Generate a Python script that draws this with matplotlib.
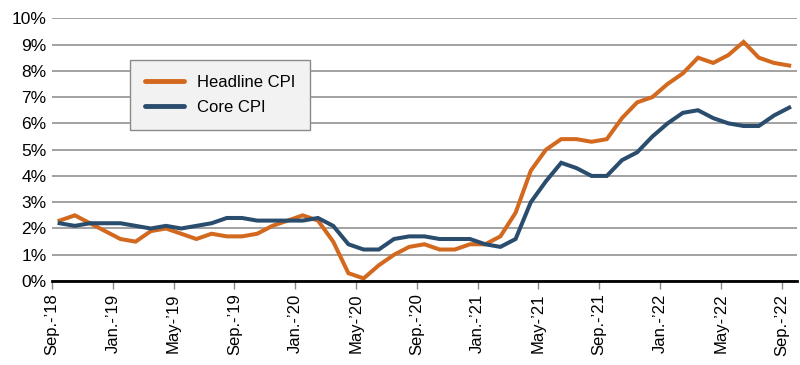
import matplotlib.pyplot as plt
import numpy as np

plt.rcParams['font.family'] = ['Liberation Sans', 'DejaVu Sans']

# monthly, Sep. 2018 .. Sep. 2022 (year-over-year %)
headline = [2.3, 2.5, 2.2, 1.9,
            1.6, 1.5, 1.9, 2.0, 1.8, 1.6, 1.8, 1.7, 1.7, 1.8, 2.1, 2.3,
            2.5, 2.3, 1.5, 0.3, 0.1, 0.6, 1.0, 1.3, 1.4, 1.2, 1.2, 1.4,
            1.4, 1.7, 2.6, 4.2, 5.0, 5.4, 5.4, 5.3, 5.4, 6.2, 6.8, 7.0,
            7.5, 7.9, 8.5, 8.3, 8.6, 9.1, 8.5, 8.3, 8.2]
core = [2.2, 2.1, 2.2, 2.2,
        2.2, 2.1, 2.0, 2.1, 2.0, 2.1, 2.2, 2.4, 2.4, 2.3, 2.3, 2.3,
        2.3, 2.4, 2.1, 1.4, 1.2, 1.2, 1.6, 1.7, 1.7, 1.6, 1.6, 1.6,
        1.4, 1.3, 1.6, 3.0, 3.8, 4.5, 4.3, 4.0, 4.0, 4.6, 4.9, 5.5,
        6.0, 6.4, 6.5, 6.2, 6.0, 5.9, 5.9, 6.3, 6.6]
tick_labels = ["Sep.-\u201918", "Jan.-\u201919", "May-\u201919", "Sep.-\u201919",
               "Jan.-\u201920", "May-\u201920", "Sep.-\u201920", "Jan.-\u201921",
               "May-\u201921", "Sep.-\u201921", "Jan.-\u201922", "May-\u201922",
               "Sep.-\u201922"]

orange = '#D2691F'
blue = '#2A4D6E'

fig = plt.figure(figsize=(8, 3.65), dpi=100)
ax = fig.add_axes([0.065, 0.230, 0.931, 0.720])

x = np.arange(len(headline)) + 0.5
ax.plot(x, headline, color=orange, lw=2.9, label='Headline CPI', solid_joinstyle='miter')
ax.plot(x, core, color=blue, lw=2.9, label='Core CPI', solid_joinstyle='miter')

ax.set_xlim(0, 49)
ax.set_ylim(0, 10)
ax.set_yticks(range(0, 11))
ax.set_yticklabels([f'{v}%' for v in range(0, 11)])
ax.set_xticks(range(0, 49, 4))
ax.set_xticklabels(tick_labels, rotation=90)

ax.grid(axis='y', color='#9a9a9a', lw=1.3)
ax.set_axisbelow(True)
for s in ['left', 'right', 'top']:
    ax.spines[s].set_visible(False)
ax.spines['bottom'].set_color('black')
ax.spines['bottom'].set_linewidth(2)
ax.tick_params(axis='y', length=0, labelsize=12.5, pad=4)
ax.tick_params(axis='x', length=6, color='#888888', width=1, labelsize=12, pad=3)

leg = ax.legend(loc='upper left', bbox_to_anchor=(0.105, 0.840), fontsize=12,
                frameon=True, fancybox=False, handlelength=2.3, handletextpad=0.8,
                borderpad=0.9, labelspacing=0.6, borderaxespad=0)
leg.get_frame().set_facecolor('#f2f2f2')
leg.get_frame().set_edgecolor('#8a8a8a')
leg.get_frame().set_alpha(1)
for l in leg.get_lines():
    l.set_linewidth(3.5)
    l.set_solid_capstyle('round')

fig.savefig('out.png', dpi=100)
